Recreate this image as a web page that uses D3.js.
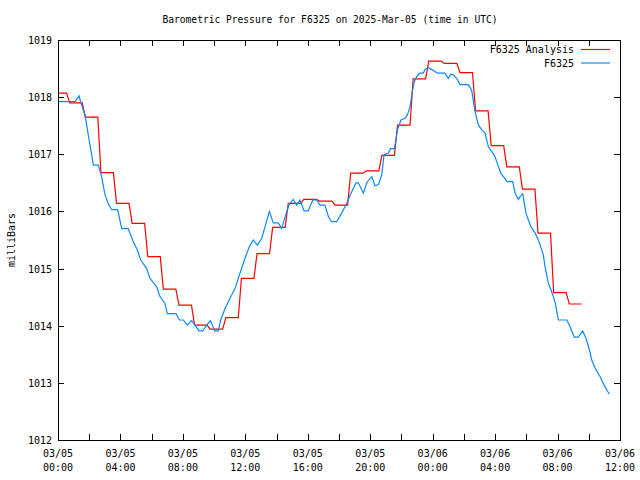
<!DOCTYPE html>
<html><head><meta charset="utf-8">
<script src="https://d3js.org/d3.v7.min.js"></script>
<style>body{margin:0;background:#fff}svg{display:block}</style>
</head><body>
<script>
const title = "Barometric Pressure for F6325 on 2025-Mar-05 (time in UTC)";
const yLabel = "milliBars";
const seriesNames = ["F6325 Analysis", "F6325"];
const xTickLabels = [["03/05","00:00"],["03/05","04:00"],["03/05","08:00"],["03/05","12:00"],["03/05","16:00"],["03/05","20:00"],["03/06","00:00"],["03/06","04:00"],["03/06","08:00"],["03/06","12:00"]];
const yTicks = [1012,1013,1014,1015,1016,1017,1018,1019];
// analysis: hourly values (hours since 03/05 00:00 UTC)
const analysisHours = d3.range(0, 34);
const analysisValues = [1018.07,1017.90,1017.65,1016.68,1016.14,1015.79,1015.21,1014.64,1014.36,1014.01,
  1013.94,1014.14,1014.83,1015.26,1015.72,1016.14,1016.21,1016.18,1016.11,1016.67,
  1016.71,1016.98,1017.51,1018.32,1018.63,1018.59,1018.43,1017.76,1017.15,1016.78,
  1016.39,1015.62,1014.58,1014.38];
// observations
const obsHours = [0,1.09,1.35,1.45,1.56,1.73,1.84,1.99,2.16,2.26,2.58,2.80,3.01,3.22,3.44,3.82,4.08,4.50,4.82,5.08,
  5.30,5.68,5.89,6.32,6.53,6.85,7.00,7.56,7.77,8.03,8.28,8.56,8.78,9.03,9.27,9.53,9.76,10.04,10.27,10.42,
  10.70,11.02,11.34,11.66,11.98,12.25,12.51,12.77,13.05,13.26,13.54,13.79,14.11,14.33,14.54,14.82,15.07,15.29,15.50,15.76,
  16.03,16.32,16.57,16.78,17.10,17.32,17.53,17.85,18.17,18.49,18.77,19.09,19.24,19.56,19.81,20.10,20.31,20.52,20.74,20.88,
  21.16,21.31,21.54,21.63,21.74,21.86,21.97,22.23,22.38,22.55,22.70,22.82,22.98,23.15,23.40,23.51,23.72,23.88,24.09,24.30,
  24.79,25.00,25.16,25.32,25.54,25.75,26.28,26.50,26.71,26.93,27.14,27.35,27.57,27.78,27.99,28.14,28.36,28.53,28.78,29.13,
  29.28,29.49,29.60,29.77,29.85,29.98,30.13,30.30,30.56,30.77,30.92,31.09,31.20,31.35,31.41,31.58,31.73,31.86,31.95,32.05,
  32.59,32.80,33.07,33.33,33.61,33.82,34.04,34.19,34.40,34.72,35.04,35.32];
const obsValues = [1017.92,1017.92,1018.02,1017.92,1017.82,1017.69,1017.51,1017.25,1016.99,1016.81,1016.81,1016.60,1016.29,1016.14,1016.03,1016.03,1015.70,1015.70,1015.47,1015.33,
  1015.15,1015.00,1014.83,1014.68,1014.51,1014.39,1014.21,1014.21,1014.10,1014.10,1014.01,1014.09,1014.01,1013.91,1013.91,1014.01,1014.09,1013.91,1013.91,1014.10,
  1014.30,1014.48,1014.65,1014.92,1015.18,1015.38,1015.50,1015.41,1015.53,1015.73,1016.00,1015.80,1015.80,1015.70,1015.90,1016.13,1016.21,1016.11,1016.20,1016.01,
  1016.01,1016.20,1016.20,1016.11,1016.11,1015.91,1015.82,1015.82,1015.97,1016.14,1016.32,1016.50,1016.50,1016.32,1016.52,1016.61,1016.45,1016.47,1016.64,1016.99,
  1017.02,1017.10,1017.10,1017.22,1017.43,1017.51,1017.60,1017.63,1017.69,1017.83,1018.10,1018.27,1018.36,1018.42,1018.42,1018.48,1018.52,1018.49,1018.46,1018.42,
  1018.42,1018.33,1018.40,1018.39,1018.33,1018.22,1018.22,1018.12,1017.75,1017.51,1017.43,1017.37,1017.13,1017.05,1016.96,1016.84,1016.67,1016.61,1016.52,1016.52,
  1016.32,1016.21,1016.26,1016.31,1016.17,1015.97,1015.85,1015.73,1015.62,1015.50,1015.38,1015.24,1015.03,1014.83,1014.74,1014.63,1014.51,1014.39,1014.25,1014.10,
  1014.10,1013.98,1013.80,1013.80,1013.91,1013.78,1013.58,1013.40,1013.26,1013.11,1012.93,1012.80];

const W = 640, H = 480;
const m = {l:58, t:40, r:620, b:440};
const svg = d3.select("body").append("svg").attr("width", W).attr("height", H);
const font = "'DejaVu Sans Mono', 'Liberation Mono', monospace";
const x = d3.scaleLinear().domain([0, 36]).range([m.l, m.r]);
const y = d3.scaleLinear().domain([1012, 1019]).range([m.b, m.t]);

// ticks
const g = svg.append("g").attr("stroke", "#000").attr("stroke-width", 1).attr("shape-rendering","crispEdges");
d3.range(0, 37, 2).forEach(h => {
  g.append("line").attr("x1", Math.round(x(h))+0.5).attr("x2", Math.round(x(h))+0.5).attr("y1", m.b).attr("y2", m.b-6);
  g.append("line").attr("x1", Math.round(x(h))+0.5).attr("x2", Math.round(x(h))+0.5).attr("y1", m.t).attr("y2", m.t+6);
});
yTicks.forEach(v => {
  g.append("line").attr("x1", m.l).attr("x2", m.l+6).attr("y1", Math.round(y(v))+0.5).attr("y2", Math.round(y(v))+0.5);
  g.append("line").attr("x1", m.r).attr("x2", m.r-6).attr("y1", Math.round(y(v))+0.5).attr("y2", Math.round(y(v))+0.5);
});

// series
const analysisPts = [];
analysisHours.forEach((h, i) => {
  const v = analysisValues[i];
  analysisPts.push([Math.max(0, h - 0.25), v]);
  analysisPts.push([h + 0.55, v]);
});
const line = d3.line().x(d => x(d[0])).y(d => y(d[1]));
svg.append("path").datum(analysisPts).attr("d", line)
  .attr("fill","none").attr("stroke","#ff0000").attr("stroke-width",1.2);
const obsPts = obsHours.map((h,i)=>[h, obsValues[i]]);
svg.append("path").datum(obsPts).attr("d", line)
  .attr("fill","none").attr("stroke","#0a88ff").attr("stroke-width",1.2);

// frame
svg.append("rect").attr("x", m.l+0.5).attr("y", m.t+0.5).attr("width", m.r-m.l).attr("height", m.b-m.t)
  .attr("fill","none").attr("stroke","#000").attr("stroke-width",1).attr("shape-rendering","crispEdges");

// labels
const txt = svg.append("g").attr("font-family", font).attr("font-size", "10px").attr("fill", "#000");
yTicks.forEach(v => {
  txt.append("text").attr("x", 52).attr("y", y(v)+4).attr("text-anchor","end").text(v);
});
xTickLabels.forEach((lb, i) => {
  const xx = x(i*4);
  txt.append("text").attr("x", xx).attr("y", 457).attr("text-anchor","middle").text(lb[0]);
  txt.append("text").attr("x", xx).attr("y", 471).attr("text-anchor","middle").text(lb[1]);
});
txt.append("text").attr("x", 330).attr("y", 23).attr("text-anchor","middle").attr("font-size","9.6px").text(title);
txt.append("text").attr("transform","translate(15,240) rotate(-90)").attr("text-anchor","middle").text(yLabel);

// legend
const colors = ["#ff0000", "#0a88ff"];
seriesNames.forEach((n, i) => {
  const yy = 49 + i*13.5;
  txt.append("text").attr("x", 574).attr("y", yy+4).attr("text-anchor","end").text(n);
  svg.append("line").attr("x1", 581).attr("x2", 610).attr("y1", yy+0.5).attr("y2", yy+0.5)
    .attr("stroke", colors[i]).attr("stroke-width", 1.2);
});
</script>
</body></html>
